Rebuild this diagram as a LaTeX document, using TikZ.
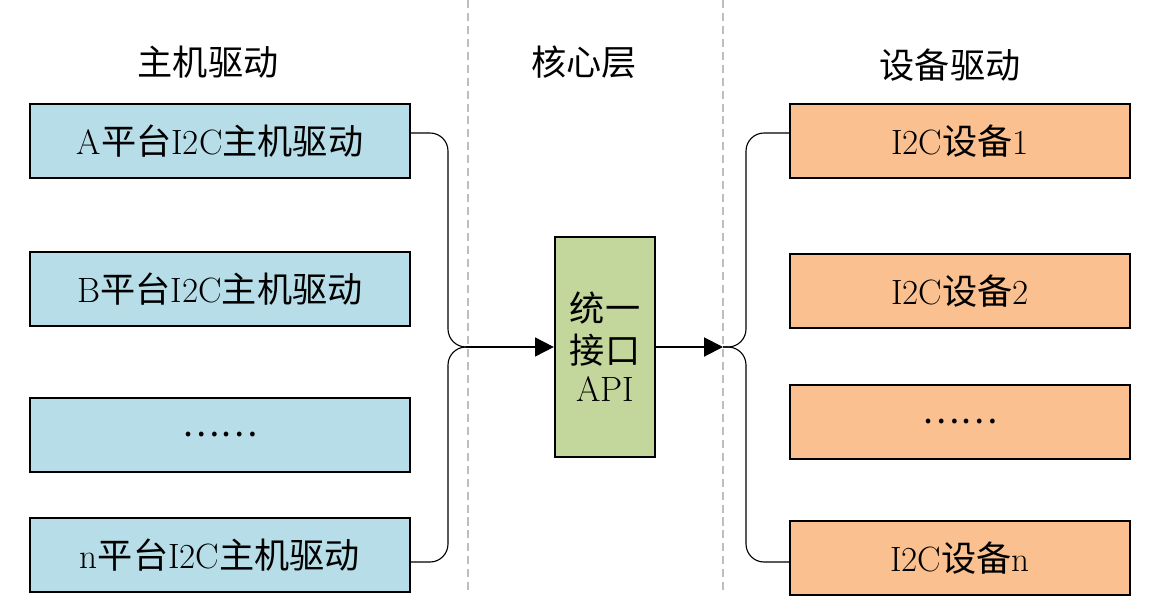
\documentclass[tikz,border=0pt]{standalone}
\usepackage{fontspec}
\newfontfamily\cjk{Noto Sans CJK SC}
\newcommand{\zh}[1]{{\cjk #1}}
\usetikzlibrary{calc, positioning, arrows.meta}
\definecolor{hostblue}{RGB}{183,222,232}
\definecolor{devorange}{RGB}{250,192,144}
\definecolor{apigreen}{RGB}{195,214,155}
\definecolor{sepgray}{RGB}{190,190,190}

\begin{document}
\begin{tikzpicture}[x=0.025cm,y=-0.025cm,>={Triangle[length=0.47cm,width=0.47cm]},
	big/.style={font=\fontsize{25}{30}\selectfont},
	box/.style={big, draw, line width=1.6pt, inner sep=0pt, minimum height=1.85cm},
	host/.style={box, fill=hostblue, minimum width=9.5cm},
	dev/.style={box, fill=devorange, minimum width=8.5cm},
	conn/.style={line width=0.8pt, rounded corners=0.45cm},
	arr/.style={line width=1.4pt, ->},
	sep/.style={sepgray, line width=1.4pt, dash pattern=on 5.7pt off 3.5pt}]
				\fill[white] (0,0) rectangle (1155,607);
				\useasboundingbox (0,0) rectangle (1155,607);
				
				% separators
				\draw[sep] (468,0) -- (468,595);
				\draw[sep] (723,0) -- (723,590);
				
				% headers
				\node[big] (th) at (208,62) {\zh{主机驱动}};
				\node[big] (tc) at (584,62) {\zh{核心层}};
				\node[big] (td) at (950,65) {\zh{设备驱动}};
				
				% host drivers
				\node[host] (hA) at (220,141) {A\zh{平台}I2C\zh{主机驱动}};
				\node[host] (hB) at (220,289) {B\zh{平台}I2C\zh{主机驱动}};
				\node[host] (hx) at (220,435) {\zh{……}};
				\node[host] (hn) at (220,555) {n\zh{平台}I2C\zh{主机驱动}};
				
				% core
				\node[box, fill=apigreen, minimum width=2.5cm, minimum height=5.5cm, align=center] (api) at (605,347) {\zh{统一}\\\zh{接口}\\[-3pt]API};
				
				% device drivers
				\node[dev] (d1) at (960,141) {I2C\zh{设备}1};
				\node[dev] (d2) at (960,291) {I2C\zh{设备}2};
				\node[dev] (dx) at (960,422) {\zh{……}};
				\node[dev] (dn) at (960,558) {I2C\zh{设备}n};
				
				\coordinate (jl) at (448,347);
				\coordinate (jr) at (723,347);
				\draw[conn] ([yshift=0.2cm]hA.east) -| (jl) -- ++(22,0);
				\draw[conn] ([yshift=-0.175cm]hn.east) -| (jl) -- ++(22,0);
				\draw[arr] ($(jl)+(18,0)$) -- (api.west);
				\draw[arr] (api.east) -- (jr);
				\draw[conn] (jr) -- ++(23,0) |- ([yshift=0.2cm]d1.west);
				\draw[conn] (jr) -- ++(23,0) |- ([yshift=-0.1cm]dn.west);
			\end{tikzpicture}
\end{document}
